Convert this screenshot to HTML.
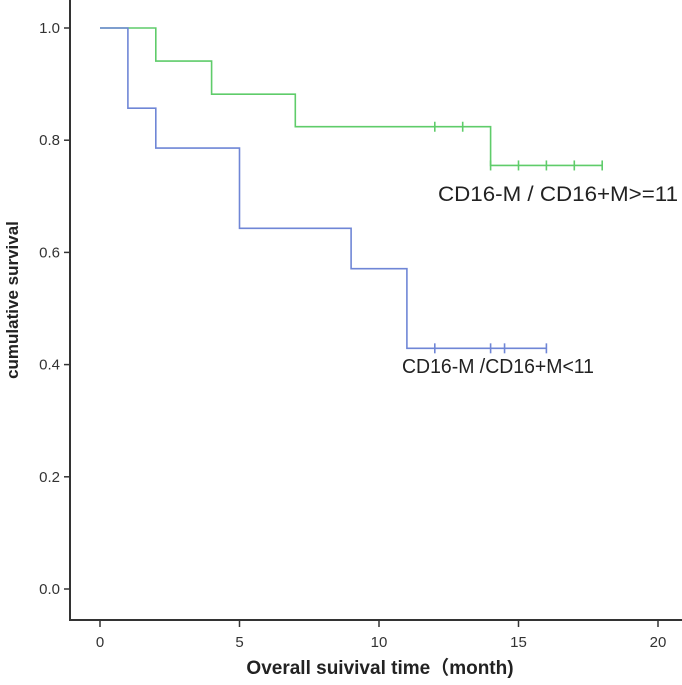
<!DOCTYPE html>
<html><head><meta charset="utf-8"><style>
html,body{margin:0;padding:0;background:#fff;}
svg{display:block;font-family:"Liberation Sans",sans-serif;}
</style></head><body>
<svg id="chart" width="682" height="685">
<g id="axes"></g><g id="series"></g>
<text x="438" y="201" font-size="21" textLength="240" lengthAdjust="spacingAndGlyphs" fill="#222">CD16-M / CD16+M&gt;=11</text>
<text x="402" y="373" font-size="20" textLength="192" lengthAdjust="spacingAndGlyphs" fill="#222">CD16-M /CD16+M&lt;11</text>
<text x="380" y="674" font-size="19" font-weight="bold" text-anchor="middle" fill="#222" font-family="'Liberation Sans','Noto Sans CJK SC',sans-serif">Overall suivival time（month)</text>
<text transform="translate(18,300) rotate(-90)" font-size="17" font-weight="bold" text-anchor="middle" fill="#222">cumulative survival</text>
</svg>
<script>
const xTicks=[0,5,10,15,20];
const yTicks=[0,0.2,0.4,0.6,0.8,1.0];
const greenTimes=[0,2,4,7,14,18];
const greenSurv=[1.0,0.941,0.882,0.824,0.755,0.755];
const greenCensor=[12,13,14,15,16,17,18];
const blueTimes=[0,1,2,5,9,11,16];
const blueSurv=[1.0,0.857,0.786,0.643,0.571,0.429,0.429];
const blueCensor=[12,14,14.5,16];

const X=t=>100+t*27.9;
const Y=s=>589-s*561;
const NS="http://www.w3.org/2000/svg";
function mk(tag,attrs,parent){const e=document.createElementNS(NS,tag);for(const k in attrs)e.setAttribute(k,attrs[k]);parent.appendChild(e);return e;}
const ax=document.getElementById('axes');
let l=mk('path',{d:'M70,0 V620 H682',stroke:'#333','stroke-width':2,fill:'none'},ax);


xTicks.forEach(t=>{
 const tk=mk('line',{x1:X(t),x2:X(t),y1:620,y2:627,stroke:'#333','stroke-width':1.5},ax);
 
 
 const tx=mk('text',{x:X(t),y:647,'font-size':15,'text-anchor':'middle',fill:'#333'},ax);
 tx.textContent=t;
 
 
});
yTicks.forEach(v=>{
 const tk=mk('line',{x1:64,x2:70,y1:Y(v),y2:Y(v),stroke:'#333','stroke-width':1.5},ax);
 
 
 const tx=mk('text',{x:60,y:Y(v)+5,'font-size':15,'text-anchor':'end',fill:'#333'},ax);
 tx.textContent=v.toFixed(1);
 
 
});
const sg=document.getElementById('series');
function curve(times,surv,cens,color,name){
 let d='M'+X(times[0])+','+Y(surv[0]);
 for(let i=1;i<times.length;i++){d+=' H'+X(times[i])+' V'+Y(surv[i]);}
 const p=mk('path',{d:d,stroke:color,'stroke-width':1.6,fill:'none'},sg);
 
 
 cens.forEach(t=>{
  let s=surv[0];
  for(let i=0;i<times.length;i++){if(times[i]<=t)s=surv[i];}
  const c=mk('line',{x1:X(t),x2:X(t),y1:Y(s)-5,y2:Y(s)+5,stroke:color,'stroke-width':1.6},sg);
  
  
 });
}
curve(greenTimes,greenSurv,greenCensor,'#5fcc6a','high-group');
curve(blueTimes,blueSurv,blueCensor,'#6f86d6','low-group');
</script>
</body></html>
